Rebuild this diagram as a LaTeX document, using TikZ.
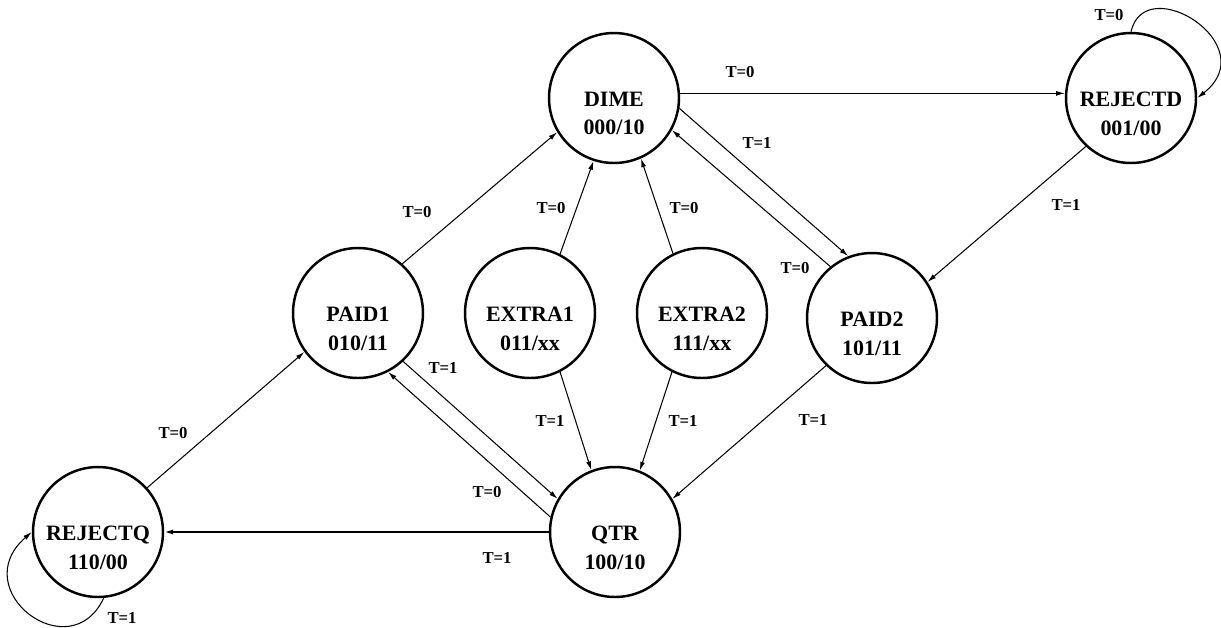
\documentclass[tikz,border=0pt]{standalone}
\usepackage{fontspec}
\setmainfont{Liberation Serif}
\usetikzlibrary{arrows.meta}
\begin{document}
\begin{tikzpicture}[x=0.02cm,y=-0.02cm,
  state/.style={circle,draw,line width=1.4pt,minimum size=2.6cm,inner sep=0pt},
  stext/.style={font=\fontsize{12.5}{16}\selectfont\bfseries,align=center,yshift=-9pt},
  lab/.style={font=\fontsize{9.5}{11}\selectfont\bfseries,inner sep=0pt},
  tr/.style={line width=0.6pt,-{Latex[length=5pt,width=2.8pt]}}]
\useasboundingbox (0,0) rectangle (1221,627);
% states
\node[state,label={[stext]center:DIME\\000/10}] (DIME) at (614,98) {};
\node[state,label={[stext]center:REJECTD\\001/00}] (REJECTD) at (1131,98) {};
\node[state,label={[stext]center:PAID1\\010/11}] (PAID1) at (358,313) {};
\node[state,label={[stext]center:EXTRA1\\011/xx}] (EXTRA1) at (530,313) {};
\node[state,label={[stext]center:EXTRA2\\111/xx}] (EXTRA2) at (702,313) {};
\node[state,label={[stext]center:PAID2\\101/11}] (PAID2) at (872,318) {};
\node[state,label={[stext]center:QTR\\100/10}] (QTR) at (615,532) {};
\node[state,label={[stext]center:REJECTQ\\110/00}] (REJECTQ) at (98,532) {};
% transitions
\draw[tr] (DIME.4) -- (REJECTD.176);
\draw[tr] (DIME.-9) -- (PAID2.111);
\draw[tr] (PAID2.129) -- (DIME.-29);
\draw[tr] (REJECTD.-133) -- (PAID2.33);
\draw[tr] (REJECTD.90) .. controls (1145,-30) and (1265,45) .. (REJECTD.0);
\draw[tr] (PAID1.48) -- (DIME.-149);
\draw[tr] (EXTRA1.63) -- (DIME.-108);
\draw[tr] (EXTRA2.116) -- (DIME.-66);
\draw[tr] (PAID1.-47) -- (QTR.150);
\draw[tr] (QTR.167) -- (PAID1.-63);
\draw[tr] (EXTRA1.-63) -- (QTR.111);
\draw[tr] (EXTRA2.-117) -- (QTR.68);
\draw[tr] (PAID2.-134) -- (QTR.30);
\draw[tr,line width=0.9pt] (QTR.west) -- (REJECTQ.east);
\draw[tr] (REJECTQ.42) -- (PAID1.-144);
\draw[tr] (REJECTQ.-85) .. controls (70,670) and (-35,590) .. (REJECTQ.180);
% labels
\node[lab] (l1) at (740,72) {T=0};
\node[lab] (l2) at (757,143) {T=1};
\node[lab] (l3) at (795,268) {T=0};
\node[lab] (l4) at (1066,205) {T=1};
\node[lab] (l5) at (1109,15) {T=0};
\node[lab] (l6) at (417,212) {T=0};
\node[lab] (l7) at (551,208) {T=0};
\node[lab] (l8) at (684,208) {T=0};
\node[lab] (l9) at (443,368) {T=1};
\node[lab] (l10) at (487,492) {T=0};
\node[lab] (l11) at (550,421) {T=1};
\node[lab] (l12) at (683,421) {T=1};
\node[lab] (l13) at (813,420) {T=1};
\node[lab] (l14) at (173,433) {T=0};
\node[lab] (l15) at (497,558) {T=1};
\node[lab] (l16) at (122,618) {T=1};
\end{tikzpicture}
\end{document}
